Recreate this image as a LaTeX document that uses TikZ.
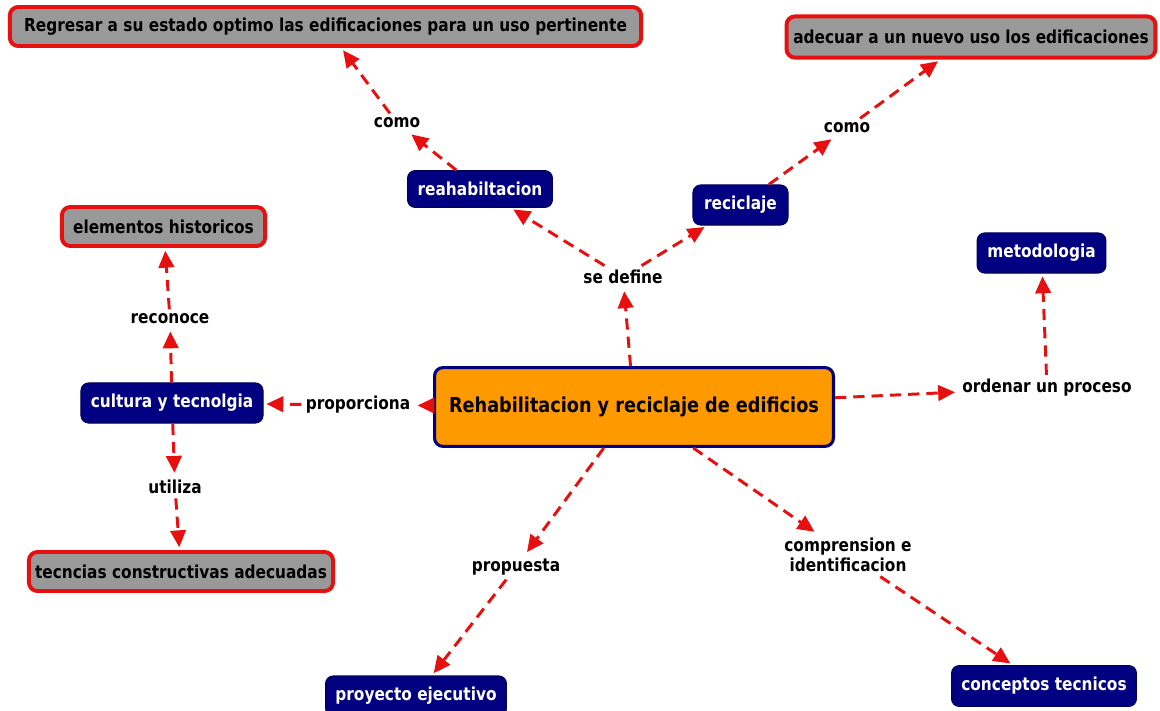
\documentclass[tikz,border=0pt]{standalone}
\usepackage{fontspec}
\newfontfamily\vf[FakeStretch=0.86]{DejaVu Sans}
\usetikzlibrary{arrows.meta}
\definecolor{navyc}{RGB}{0,0,128}
\definecolor{grayc}{RGB}{153,153,153}
\definecolor{redc}{RGB}{230,16,16}
\definecolor{orangec}{RGB}{255,153,0}
\begin{document}
\begin{tikzpicture}[x=0.025cm,y=-0.025cm,
  base/.style={font=\vf\bfseries\fontsize{12.7}{14.5}\selectfont, align=center, inner sep=0pt},
  navybox/.style={base, rounded corners=5.5pt, fill=navyc, draw=navyc!70!black, line width=0.8pt, text=white},
  graybox/.style={base, rounded corners=6pt, fill=grayc, draw=redc, line width=2.8pt, text=black},
  mainbox/.style={base, font=\vf\bfseries\fontsize{14.6}{17}\selectfont, rounded corners=6pt, fill=orangec, draw=navyc, line width=2.2pt, text=black},
  link/.style={base, text=black, inner sep=3pt},
  conn/.style={draw=redc, line width=2.1pt, dash pattern=on 8pt off 5pt, shorten >=2pt,
    -{Triangle[length=12pt,width=11pt,fill=redc]}},
]
\clip (0,0) rectangle (1160,711);
\fill[white] (0,0) rectangle (1160,711);
% concepts
\node[mainbox, minimum width=9.97cm, minimum height=1.97cm] (main) at (634,407) {Rehabilitacion y reciclaje de edificios};
\node[graybox, minimum width=15.78cm, minimum height=0.975cm] (regresar) at (325.5,26.5) {Regresar a su estado optimo las edificaciones para un uso pertinente};
\node[graybox, minimum width=9.22cm, minimum height=1.03cm] (adecuar) at (971,37) {adecuar a un nuevo uso los edificaciones};
\node[navybox, minimum width=3.62cm, minimum height=0.92cm] (reah) at (480,189) {reahabiltacion};
\node[navybox, minimum width=2.375cm, minimum height=1.0cm] (recic) at (740.5,205) {reciclaje};
\node[navybox, minimum width=3.22cm, minimum height=1.0cm] (metod) at (1041.5,253) {metodologia};
\node[graybox, minimum width=5.08cm, minimum height=0.975cm] (elem) at (163.5,226.5) {elementos historicos};
\node[navybox, minimum width=4.55cm, minimum height=1.0cm] (cult) at (172,403) {cultura y tecnolgia};
\node[graybox, minimum width=7.6cm, minimum height=0.975cm] (tecn) at (181,571.5) {tecncias constructivas adecuadas};
\node[navybox, minimum width=4.52cm, minimum height=1.0cm] (proy) at (416,696) {proyecto ejecutivo};
\node[navybox, minimum width=4.62cm, minimum height=1.02cm] (conc) at (1044,686) {conceptos tecnicos};
% linking phrases
\node[link] (como1) at (397,123) {como};
\node[link] (como2) at (847,128) {como};
\node[link] (sedef) at (623,277) {se define};
\node[link] (recon) at (170,319) {reconoce};
\node[link] (propo) at (358,405) {proporciona};
\node[link] (utili) at (175,487) {utiliza};
\node[link] (orden) at (1047,388) {ordenar un proceso};
\node[link] (propu) at (516,567) {propuesta};
\node[link] (compr) at (848,555) {comprension e\\identificacion};
% connectors
\draw[conn] (main) -- (sedef);
\draw[conn] (sedef) -- (reah);
\draw[conn] (sedef) -- (recic);
\draw[conn] (reah) -- (como1);
\draw[conn] (como1) -- (regresar);
\draw[conn] (recic) -- (como2);
\draw[conn] (como2) -- (adecuar);
\draw[conn] (main) -- (orden);
\draw[conn] (orden) -- (metod);
\draw[conn] (main) -- (propo);
\draw[conn] (propo) -- (cult);
\draw[conn] (cult) -- (recon);
\draw[conn] (recon) -- (elem);
\draw[conn] (cult) -- (utili);
\draw[conn] (utili) -- (tecn);
\draw[conn] (main) -- (propu);
\draw[conn] (propu) -- (proy);
\draw[conn] (main) -- (compr);
\draw[conn] (compr) -- (conc);
\end{tikzpicture}
\end{document}
